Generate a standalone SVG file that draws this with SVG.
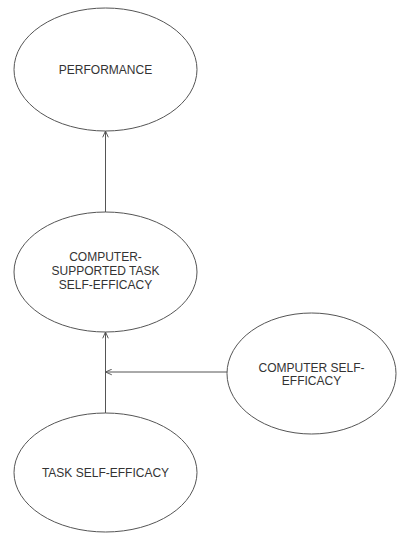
<svg xmlns="http://www.w3.org/2000/svg" width="399" height="533" viewBox="0 0 399 533">
<style>
.node ellipse{fill:#fff;stroke:#555;stroke-width:1}
.node text{font-family:"Liberation Sans",Arial,sans-serif;font-size:12px;fill:#333;text-anchor:middle}
.conn line{stroke:#555;stroke-width:1;fill:none}
</style>
<defs>
<marker id="arr" viewBox="0 0 10 10" refX="10" refY="5" markerWidth="7" markerHeight="7" orient="auto" markerUnits="userSpaceOnUse">
<path d="M1,1 L10,5 L1,9" fill="none" stroke="#555" stroke-width="1.4"/>
</marker>
</defs>
<rect width="399" height="533" fill="#fff"/>
<g class="conn">
<line x1="105.5" y1="212" x2="105.5" y2="131" marker-end="url(#arr)"/>
<line x1="105.5" y1="413" x2="105.5" y2="332" marker-end="url(#arr)"/>
<line x1="227" y1="372" x2="105.5" y2="372" marker-end="url(#arr)"/>
</g>
<g id="performance" class="node">
<ellipse cx="105.5" cy="69.5" rx="91.5" ry="61.5"/>
<text x="105.5" y="74">PERFORMANCE</text>
</g>
<g id="cst-self-efficacy" class="node">
<ellipse cx="105.5" cy="272" rx="91.5" ry="60"/>
<text x="105.5" y="261">COMPUTER-</text>
<text x="105.5" y="275">SUPPORTED TASK</text>
<text x="105.5" y="289">SELF-EFFICACY</text>
</g>
<g id="computer-self-efficacy" class="node">
<ellipse cx="311.5" cy="373.5" rx="84.5" ry="60.5"/>
<text x="311.5" y="372">COMPUTER SELF-</text>
<text x="311.5" y="385">EFFICACY</text>
</g>
<g id="task-self-efficacy" class="node">
<ellipse cx="105.5" cy="472.5" rx="91.5" ry="59.5"/>
<text x="105.5" y="477">TASK SELF-EFFICACY</text>
</g>
</svg>
